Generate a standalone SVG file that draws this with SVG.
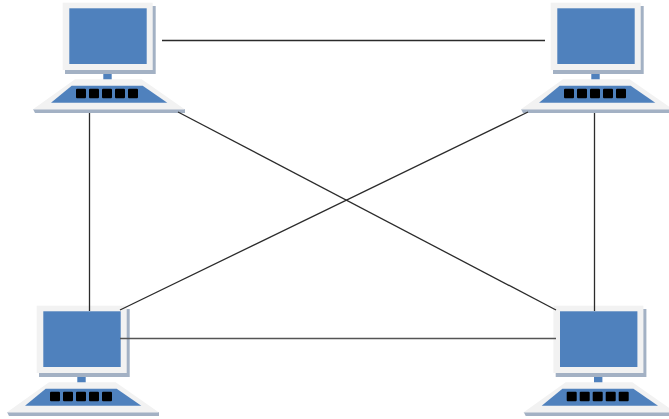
<svg xmlns="http://www.w3.org/2000/svg" width="669" height="419" viewBox="0 0 669 419">
<style>
.frame{fill:#f2f2f2}
.shadow{fill:#a3b1c4}
.blue{fill:#4f81bd}
.key{fill:#000}
.edge{stroke:#2b2b2b;stroke-width:1.3;fill:none}
</style>
<defs>
<filter id="soft" x="-5%" y="-5%" width="110%" height="110%"><feGaussianBlur stdDeviation="0.45"/></filter>
<g id="pc">
<rect class="shadow" x="65" y="6" width="90.7" height="68"/>
<rect class="frame" x="62.7" y="2.7" width="90" height="67.3"/>
<rect class="blue" x="69.3" y="8.3" width="77.4" height="55.7"/>
<rect class="blue" x="103.3" y="74" width="8.4" height="8"/>
<polygon class="shadow" points="33,109 185,109 185,113 35,113"/>
<polygon class="frame" points="75,79.3 141.7,79.3 185,109.5 32.7,109.5"/>
<polygon class="blue" points="71.7,85.7 142.7,85.7 167.3,102.7 51,102.7"/>
<rect class="key" x="76" y="88.7" width="10" height="9.6" rx="1"/>
<rect class="key" x="89" y="88.7" width="10" height="9.6" rx="1"/>
<rect class="key" x="102" y="88.7" width="10" height="9.6" rx="1"/>
<rect class="key" x="115" y="88.7" width="10" height="9.6" rx="1"/>
<rect class="key" x="128" y="88.7" width="10" height="9.6" rx="1"/>
</g>
</defs>
<rect width="669" height="419" fill="#fff"/>
<g id="computer-top-left" filter="url(#soft)"><use href="#pc"/></g>
<g id="computer-top-right" filter="url(#soft)"><use href="#pc" x="488" y="0"/></g>
<g id="computer-bottom-left" filter="url(#soft)"><use href="#pc" x="-26" y="303"/></g>
<g id="computer-bottom-right" filter="url(#soft)"><use href="#pc" x="490.7" y="303"/></g>
<g id="connectors">
<line class="edge" x1="162" y1="40.5" x2="545" y2="40.5"/>
<line class="edge" x1="89.5" y1="113" x2="89.5" y2="311"/>
<line class="edge" x1="594.5" y1="113" x2="594.5" y2="311"/>
<line class="edge" x1="120" y1="338.5" x2="556" y2="338.5" style="stroke:#555;stroke-width:1.6"/>
<line class="edge" x1="178" y1="112" x2="556" y2="310"/>
<line class="edge" x1="528" y1="112" x2="120" y2="310"/>
</g>
</svg>
